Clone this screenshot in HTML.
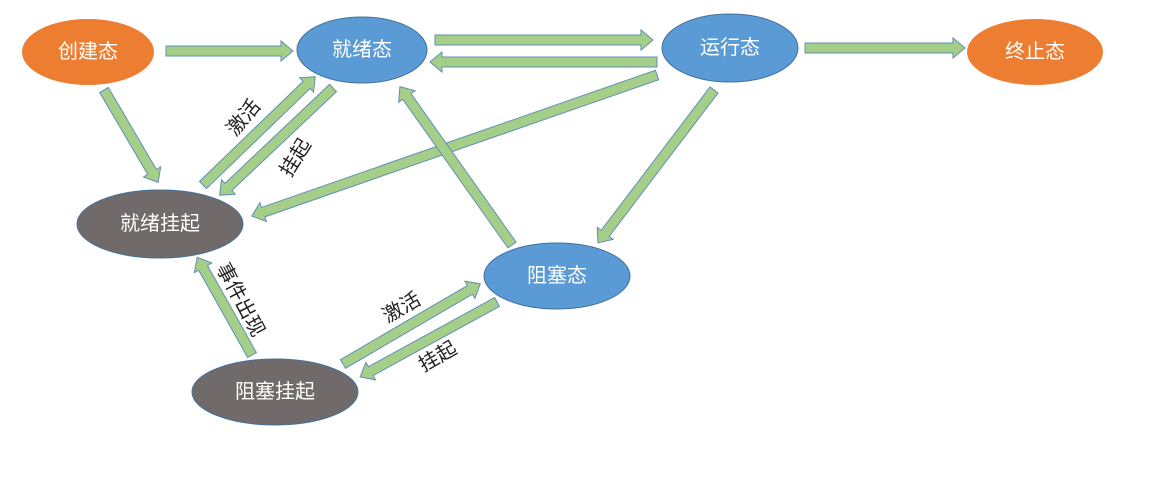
<!DOCTYPE html>
<html><head><meta charset="utf-8"><style>
html,body{margin:0;padding:0;background:#fff;}
svg{display:block;}
text{font-family:"Liberation Sans","Noto Sans CJK SC",sans-serif;}
.n{fill:#fff;font-size:20px;text-anchor:middle;dominant-baseline:central;}
.l{fill:#222;font-size:20px;text-anchor:middle;dominant-baseline:central;}
.a{fill:#A5CF88;stroke:#5F8FB8;stroke-width:1;}
</style></head><body>
<svg width="1162" height="486" viewBox="0 0 1162 486" xmlns="http://www.w3.org/2000/svg">
<g transform="translate(166,51) rotate(0)"><polygon class="a" points="0,-5 115,-5 115,-10 127,0 115,10 115,5 0,5"/></g>
<g transform="translate(435,40) rotate(0)"><polygon class="a" points="0,-5 206,-5 206,-10 218,0 206,10 206,5 0,5"/></g>
<g transform="translate(657,62) rotate(180)"><polygon class="a" points="0,-5 215,-5 215,-10 227,0 215,10 215,5 0,5"/></g>
<g transform="translate(805,48) rotate(0)"><polygon class="a" points="0,-5 148,-5 148,-10 160,0 148,10 148,5 0,5"/></g>
<g transform="translate(104,90) rotate(59.6)"><polygon class="a" points="0,-5 95,-5 95,-10 107,0 95,10 95,5 0,5"/></g>
<g transform="translate(203,185) rotate(-44)"><polygon class="a" points="0,-5 144,-5 144,-10 156,0 144,10 144,5 0,5"/></g>
<g transform="translate(333,88) rotate(136.6)"><polygon class="a" points="0,-5 144,-5 144,-10 156,0 144,10 144,5 0,5"/></g>
<g transform="translate(657,75) rotate(160.8)"><polygon class="a" points="0,-5 417,-5 417,-10 429,0 417,10 417,5 0,5"/></g>
<g transform="translate(714,90) rotate(127.2)"><polygon class="a" points="0,-5 180,-5 180,-10 192,0 180,10 180,5 0,5"/></g>
<g transform="translate(512,245) rotate(-125.3)"><polygon class="a" points="0,-5 182,-5 182,-10 194,0 182,10 182,5 0,5"/></g>
<g transform="translate(252,355) rotate(-119.3)"><polygon class="a" points="0,-5 100,-5 100,-10 112,0 100,10 100,5 0,5"/></g>
<g transform="translate(343,364) rotate(-30.3)"><polygon class="a" points="0,-5 147,-5 147,-10 159,0 147,10 147,5 0,5"/></g>
<g transform="translate(497,302) rotate(151.3)"><polygon class="a" points="0,-5 144,-5 144,-10 156,0 144,10 144,5 0,5"/></g>
<ellipse cx="88" cy="52" rx="66" ry="33" fill="#ED7D31"/>
<text class="n" x="88" y="52">创建态</text>
<ellipse cx="362" cy="50" rx="65" ry="33" fill="#5B9BD5" stroke="#41719C" stroke-width="1"/>
<text class="n" x="362" y="50">就绪态</text>
<ellipse cx="730" cy="48" rx="68" ry="34" fill="#5B9BD5" stroke="#41719C" stroke-width="1"/>
<text class="n" x="730" y="48">运行态</text>
<ellipse cx="1035" cy="52" rx="68" ry="33" fill="#ED7D31"/>
<text class="n" x="1035" y="52">终止态</text>
<ellipse cx="160" cy="224" rx="83" ry="34" fill="#706B6A" stroke="#41719C" stroke-width="1"/>
<text class="n" x="160" y="224">就绪挂起</text>
<ellipse cx="557" cy="276" rx="73" ry="33" fill="#5B9BD5" stroke="#41719C" stroke-width="1"/>
<text class="n" x="557" y="276">阻塞态</text>
<ellipse cx="275" cy="392" rx="83" ry="33" fill="#706B6A" stroke="#41719C" stroke-width="1"/>
<text class="n" x="275" y="392">阻塞挂起</text>
<text class="l" transform="translate(244,118) rotate(-50)">激活</text>
<text class="l" transform="translate(296,158) rotate(-58)">挂起</text>
<text class="l" transform="translate(240,300) rotate(62)">事件出现</text>
<text class="l" transform="translate(402,308) rotate(-30)">激活</text>
<text class="l" transform="translate(438,357) rotate(-30)">挂起</text>
</svg>
</body></html>
